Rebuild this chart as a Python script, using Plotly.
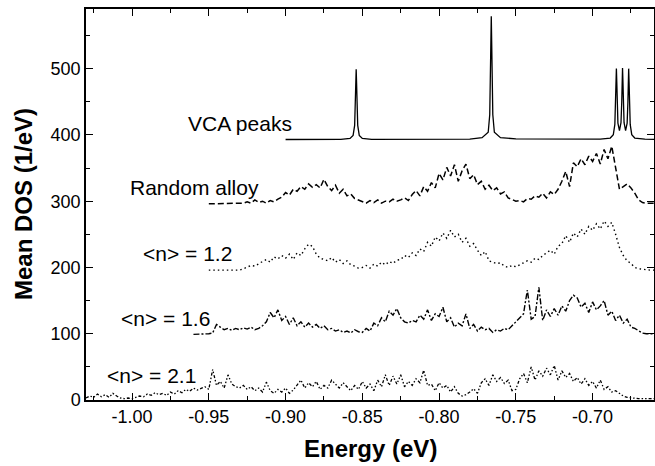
import plotly.graph_objects as go

# ---------------- data ----------------
# VCA peaks (typed points along the curve)
vca_E = [-0.900, -0.870, -0.864, -0.858, -0.856, -0.855, -0.8545, -0.85425, -0.854,
         -0.85375, -0.8535, -0.853, -0.852, -0.850, -0.844, -0.800, -0.780, -0.772,
         -0.768, -0.767, -0.7665, -0.76625, -0.766, -0.76575, -0.7655, -0.765, -0.764,
         -0.760, -0.750, -0.700, -0.695, -0.6885, -0.6865, -0.6855, -0.685, -0.68475,
         -0.6845, -0.68425, -0.684, -0.6835, -0.6825, -0.6815, -0.681, -0.68075, -0.6805,
         -0.68025, -0.680, -0.6795, -0.6785, -0.6775, -0.677, -0.67675, -0.6765, -0.67625,
         -0.676, -0.6755, -0.6745, -0.6725, -0.666, -0.660]
vca_D = [393.1, 393.2, 393.3, 394.6, 399.3, 414.4, 446.5, 478.6, 499,
         478.6, 446.5, 414.4, 399.3, 394.6, 393.3, 393.2, 393.6, 395.9,
         404.0, 430.4, 486.5, 542.6, 579, 542.6, 486.5, 430.4, 404.0,
         395.9, 394.0, 393.3, 393.5, 395.3, 400.3, 415.8, 448.2, 480.4,
         500, 480.9, 449.1, 417.8, 406.3, 418.4, 450.0, 481.9, 501,
         481.9, 450.0, 418.4, 406.3, 417.8, 449.1, 480.9, 500, 480.4,
         448.2, 415.8, 400.3, 395.3, 393.5, 393.3]

# Random alloy, E from -0.950 to -0.660 step 0.0025
ra_E0, ra_step = -0.950, 0.0025
ra_D = [296, 296, 296, 296, 296, 296, 296, 296, 296, 297,
        299, 297, 302, 298, 300, 297, 301, 299, 303, 306,
        313, 309, 318, 315, 322, 318, 326, 321, 325, 320,
        333, 322, 316, 324, 312, 318, 308, 311, 304, 302,
        300, 297, 301, 298, 302, 297, 300, 299, 303, 300,
        302, 305, 301, 310, 316, 308, 322, 315, 328, 320,
        342, 332, 351, 338, 355, 330, 346, 356, 334, 340,
        325, 330, 318, 324, 316, 320, 311, 314, 305, 302,
        300, 301, 299, 304, 303, 308, 306, 312, 305, 314,
        310, 318, 330, 345, 322, 358, 352, 364, 355, 368,
        360, 372, 356, 378, 364, 383, 350, 318, 322, 326,
        320, 312, 302, 298, 297, 297, 297]

# <n> = 1.2, E from -0.950 to -0.660 step 0.0025
n12_E0, n12_step = -0.950, 0.0025
n12_D = [196, 196, 196, 196, 196, 196, 196, 197, 196, 198,
         200, 203, 202, 206, 209, 212, 208, 216, 213, 218,
         214, 220, 212, 222, 218, 228, 235, 232, 220, 214,
         212, 210, 215, 208, 212, 206, 210, 204, 202, 199,
         200, 203, 199, 205, 202, 208, 204, 209, 206, 211,
         212, 218, 215, 222, 218, 228, 224, 238, 232, 246,
         240, 252, 244, 256, 246, 250, 238, 244, 232, 236,
         226, 218, 224, 210, 208, 206, 207, 202, 200, 203,
         201, 204, 206, 210, 208, 214, 212, 218, 222, 226,
         220, 232, 236, 248, 238, 252, 246, 258, 250, 262,
         256, 266, 258, 270, 262, 268, 250, 230, 218, 210,
         206, 200, 198, 197, 197, 196, 196]

# <n> = 1.6, E from -0.960 to -0.660 step 0.0025
n16_E0, n16_step = -0.960, 0.0025
n16_D = [99, 99, 99, 99, 100, 101, 114, 110, 106, 108,
         105, 108, 106, 109, 107, 110, 106, 108, 112, 118,
         132, 124, 136, 120, 126, 114, 124, 112, 118, 110,
         116, 110, 114, 108, 112, 106, 108, 104, 106, 102,
         104, 101, 106, 103, 102, 108, 104, 116, 112, 124,
         118, 134, 128, 138, 124, 118, 116, 120, 118, 128,
         122, 136, 120, 130, 126, 140, 118, 124, 110, 116,
         112, 130, 108, 114, 104, 110, 106, 108, 102, 106,
         104, 108, 106, 112, 118, 124, 130, 166, 122, 126,
         170, 120, 136, 126, 138, 128, 142, 134, 150, 158,
         154, 140, 146, 132, 148, 136, 142, 150, 128, 134,
         120, 128, 116, 122, 110, 108, 104, 101, 100, 100,
         100]

# <n> = 2.1, E from -1.030 to -0.660 step 0.0025
n21_E0, n21_step = -1.030, 0.0025
n21_D = [3, 6, 4, 9, 5, 8, 4, 10, 6, 3,
         2, 3, 2, 4, 6, 5, 9, 7, 11, 8,
         10, 7, 12, 9, 14, 11, 16, 13, 18, 15,
         17, 20, 16, 46, 22, 28, 18, 38, 24, 20,
         18, 22, 16, 20, 14, 18, 12, 27, 14, 10,
         16, 12, 18, 10, 15, 22, 30, 18, 26, 20,
         28, 16, 22, 18, 30, 24, 18, 26, 20, 14,
         22, 16, 28, 18, 24, 14, 30, 20, 38, 22,
         36, 24, 38, 20, 28, 22, 32, 26, 45, 22,
         24, 14, 26, 18, 22, 12, 20, 10, 6, 8,
         12, 17, 10, 26, 32, 22, 38, 28, 34, 25,
         30, 14, 16, 32, 40, 26, 50, 30, 44, 36,
         48, 38, 52, 30, 44, 34, 40, 28, 34, 24,
         32, 22, 28, 18, 30, 16, 20, 12, 14, 10,
         6, 4, 3, 2, 2, 2, 2, 3, 2]

labels = ["VCA peaks", "Random alloy", "<n> = 1.2", "<n> = 1.6", "<n> = 2.1"]
label_E = [-0.9297, -0.959, -0.964, -0.978, -0.9876]
label_D = [417, 321, 221, 123, 37.6]

x_ticks = [-1.00, -0.95, -0.90, -0.85, -0.80, -0.75, -0.70]
y_ticks = [0, 100, 200, 300, 400, 500]


def energies(e0, step, n):
    return [round(e0 + i * step, 5) for i in range(n)]


FONT = "Liberation Sans, Arial, sans-serif"
fig = go.Figure()

fig.add_trace(go.Scatter(x=vca_E, y=vca_D, mode="lines",
                         line=dict(color="black", width=1.3), showlegend=False))
fig.add_trace(go.Scatter(x=energies(ra_E0, ra_step, len(ra_D)), y=ra_D, mode="lines",
                         line=dict(color="black", width=1.5, dash="6px,3px"), showlegend=False))
fig.add_trace(go.Scatter(x=energies(n12_E0, n12_step, len(n12_D)), y=n12_D, mode="lines",
                         line=dict(color="black", width=1.4, dash="1.5px,3px"), showlegend=False))
fig.add_trace(go.Scatter(x=energies(n16_E0, n16_step, len(n16_D)), y=n16_D, mode="lines",
                         line=dict(color="black", width=1.4, dash="6px,2px,2px,2px"), showlegend=False))
fig.add_trace(go.Scatter(x=energies(n21_E0, n21_step, len(n21_D)), y=n21_D, mode="lines",
                         line=dict(color="black", width=1.3, dash="3px,2px,1.5px,2px,1.5px,2px"),
                         showlegend=False))

for t, ex, dy in zip(labels, label_E, label_D):
    fig.add_annotation(x=ex, y=dy, text=t, showarrow=False,
                       font=dict(family=FONT, size=21, color="black"),
                       xanchor="center", yanchor="middle")

# axis titles
fig.add_annotation(xref="paper", yref="paper", x=0.5, y=-0.125, yanchor="middle",
                   text="<b>Energy (eV)</b>", showarrow=False,
                   font=dict(family=FONT, size=24, color="black"))
fig.add_annotation(xref="paper", yref="paper", x=-0.11, y=0.5, xanchor="center",
                   text="<b>Mean DOS (1/eV)</b>", showarrow=False, textangle=-90,
                   font=dict(family=FONT, size=24, color="black"))

fig.update_layout(
    width=655, height=466,
    margin=dict(l=86, r=1, t=9, b=66),
    plot_bgcolor="white", paper_bgcolor="white",
    font=dict(family=FONT, color="black"),
    hovermode=False,
)
fig.update_xaxes(
    range=[-1.03, -0.66], tickvals=x_ticks, ticktext=[f"{v:.2f}" for v in x_ticks],
    ticks="inside", ticklen=7, tickwidth=1.3, tickcolor="black",
    minor=dict(ticks="inside", ticklen=4, dtick=0.025, tick0=-1.0, tickcolor="black", tickwidth=1.2),
    showline=True, linecolor="black", linewidth=1.5, mirror="ticks",
    showgrid=False, zeroline=False, automargin=False,
    tickfont=dict(family=FONT, size=18, color="black"),
)
fig.update_yaxes(
    range=[0, 590], tickvals=y_ticks,
    ticks="inside", ticklen=7, tickwidth=1.3, tickcolor="black",
    minor=dict(ticks="inside", ticklen=4, dtick=50, tick0=0, tickcolor="black", tickwidth=1.2),
    showline=True, linecolor="black", linewidth=1.5, mirror="ticks",
    showgrid=False, zeroline=False, automargin=False,
    tickfont=dict(family=FONT, size=18, color="black"),
)

fig.write_html("out.html", config={"displayModeBar": False},
               post_script="document.body.style.margin='0';document.body.style.overflow='hidden';")
